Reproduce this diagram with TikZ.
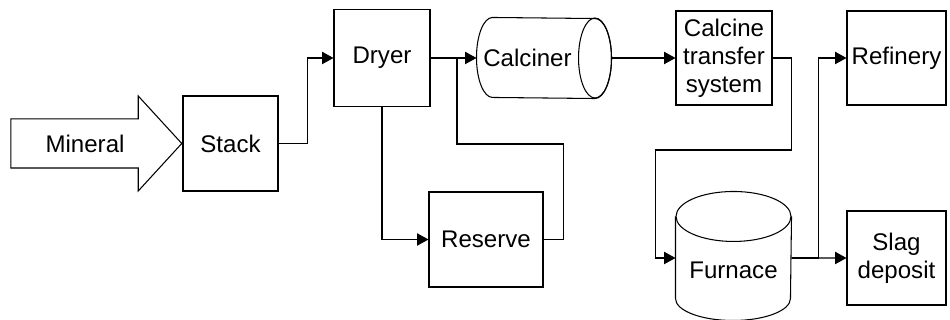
\documentclass[tikz,border=0pt]{standalone}
\usepackage{fontspec}
\setmainfont{Liberation Sans}
\usetikzlibrary{arrows.meta,positioning,shapes.arrows}
\definecolor{ink}{HTML}{000000}
\tikzset{
  unitbox/.style={
    rectangle, draw=ink, fill=white, line width=0.6pt,
    font=\fontsize{13.7}{16}\selectfont, align=center,
    inner sep=0pt
  },
  drumbody/.style={
    rectangle, draw=none, line width=0.6pt,
    font=\fontsize{13.7}{16}\selectfont, align=center,
    inner sep=0pt
  },
  feedarrow/.style={
    single arrow, draw=ink, fill=white, line width=0.6pt,
    font=\fontsize{13.7}{16}\selectfont,
    text height=0.4cm, text depth=0.03cm,
    inner xsep=0pt, inner ysep=0.265cm,
    minimum height=3.42cm,
    single arrow head extend=0.46cm, single arrow tip angle=95
  },
  flow/.style={
    -{Triangle[length=6.5pt, width=7pt]}, line width=0.6pt, draw=ink
  },
  pipe/.style={line width=0.6pt, draw=ink},
}

\begin{document}
\begin{tikzpicture}[x=0.02cm, y=0.02cm]
  \useasboundingbox (0,0) rectangle (950,320);
  % units
  \node[unitbox, minimum width=1.9cm, minimum height=1.9cm] (stack) at (230.5,176.5) {Stack};
  \node[feedarrow, anchor=tip] (mineral) at (stack.west) {Mineral};
  \node[unitbox, minimum width=1.92cm, minimum height=1.94cm] (dryer) at (382,262) {Dryer};
  \node[drumbody, minimum width=2.02cm, minimum height=1.6cm] (calciner) at (527.5,262) {Calciner};
  \node[unitbox, minimum width=1.92cm, minimum height=1.88cm] (transfer) at (724,262) {Calcine\\transfer\\system};
  \node[unitbox, minimum width=1.98cm, minimum height=1.88cm] (refinery) at (896.5,262) {Refinery};
  \node[unitbox, minimum width=2.28cm, minimum height=1.9cm] (reserve) at (486,80.5) {Reserve};
  \node[drumbody, minimum width=2.3cm, minimum height=1.12cm] (furnace) at (733.5,50) {Furnace};
  \node[unitbox, minimum width=1.98cm, minimum height=1.88cm] (slag) at (896.5,62) {Slag\\deposit};
  % drum outlines
  \draw[pipe] ([xshift=0.32cm]calciner.north west)
    arc[start angle=90, end angle=270, x radius=0.32cm, y radius=0.8cm]
    -- ([xshift=0.33cm]calciner.south east)
    arc[start angle=-90, end angle=90, x radius=0.33cm, y radius=0.8cm] -- cycle;
  \draw[pipe] ([xshift=0.33cm]calciner.east) ellipse [x radius=0.33cm, y radius=0.8cm];
  \draw[pipe] ([yshift=0.5cm]furnace.north west) -- (furnace.south west)
    arc[start angle=180, end angle=360, x radius=1.15cm, y radius=0.44cm]
    -- ([yshift=0.5cm]furnace.north east);
  \draw[pipe] ([yshift=0.5cm]furnace.north) ellipse [x radius=1.15cm, y radius=0.5cm];
  \coordinate (mix) at (457,262);
  \coordinate (cout) at ([xshift=0.66cm]calciner.east);
  \coordinate (fin) at ([yshift=0.24cm]furnace.west);
  \coordinate (fout) at ([yshift=0.24cm]furnace.east);
  % flows
  \draw[flow] (stack.east) -- ++(29,0) |- (dryer.west);
  \draw[flow] (dryer.east) -- (calciner.west);
  \draw[flow] (dryer.south) |- (reserve.west);
  \draw[pipe] (reserve.east) -- ++(20,0) -- ++(0,95.5) -| (mix);
  \draw[flow] (cout) -- (transfer.west);
  \draw[flow] (transfer.east) -- ++(19,0) -- ++(0,-92) -- ++(-136,0) |- (fin);
  \draw[flow] (fout) -- ++(27,0) |- (refinery.west);
  \draw[flow] (fout) -- (slag.west);
\end{tikzpicture}
\end{document}
